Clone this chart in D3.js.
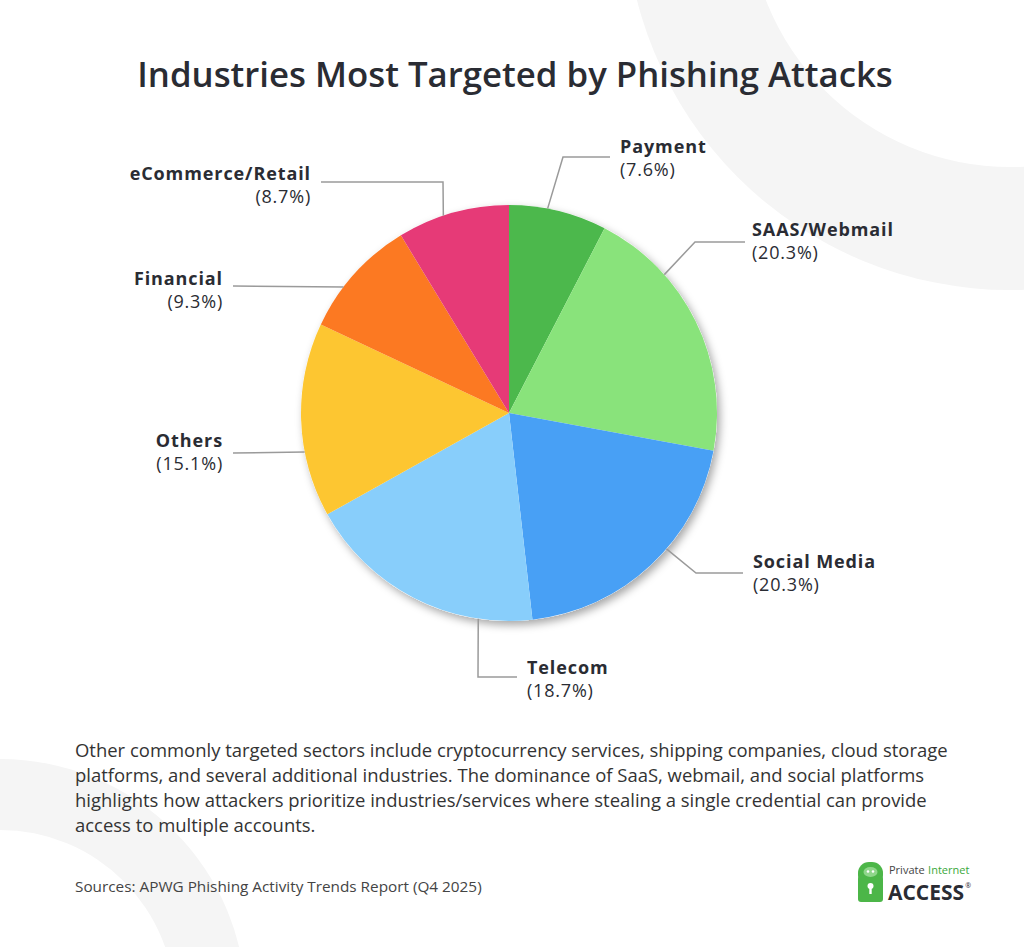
<!DOCTYPE html>
<html>
<head>
<meta charset="utf-8">
<script src="https://cdn.jsdelivr.net/npm/d3@7"></script>
<style>
  html, body { margin: 0; padding: 0; background: #fff; }
  svg { display: block; }
  text { font-family: "Open Sans", "Noto Sans", sans-serif; }
</style>
</head>
<body>
<svg id="chart" width="1024" height="947"></svg>
<script>
// data
var categories = ["Payment", "SAAS/Webmail", "Social Media", "Telecom", "Others", "Financial", "eCommerce/Retail"];
var shares = [7.6, 20.3, 20.3, 18.7, 15.1, 9.3, 8.7];
var sliceColors = ["#4cb84c", "#89e37b", "#48a0f5", "#88cefb", "#fdc631", "#fc7922", "#e63a77"];

var titleText = "Industries Most Targeted by Phishing Attacks";
var noteLines = [
    "Other commonly targeted sectors include cryptocurrency services, shipping companies, cloud storage",
    "platforms, and several additional industries. The dominance of SaaS, webmail, and social platforms",
    "highlights how attackers prioritize industries/services where stealing a single credential can provide",
    "access to multiple accounts."
];
var sourceText = "Sources: APWG Phishing Activity Trends Report (Q4 2025)";

// where each callout leaves the pie (degrees clockwise from top), its elbow and its text
var callouts = [
    { deg: 10.7,  elbow: [563, 157], end: [610, 157], text: [620, 153], side: "start" },
    { deg: 48.3,  elbow: [695, 242], end: [745, 242], text: [752, 236], side: "start" },
    { deg: 130.8, elbow: [696, 573], end: [743, 573], text: [753, 568], side: "start" },
    { deg: 188.5, elbow: [478, 677], end: [517, 677], text: [527, 674], side: "start" },
    { deg: 259.2, elbow: null,       end: [233, 453], text: [223, 447], side: "end" },
    { deg: 307.3, elbow: null,       end: [233, 286], text: [223, 285], side: "end" },
    { deg: 341.6, elbow: [443, 182], end: [321, 182], text: [311, 180], side: "end" }
];

var W = 1024, H = 947;
var cx = 509, cy = 413, radius = 208;

var svg = d3.select("#chart");

// scale a text's font so that it spans the given width
function fitWidth(sel, width) {
    var fs = parseFloat(sel.style("font-size"));
    var len = sel.node().getComputedTextLength();
    var size = fs * width / len;
    sel.style("font-size", size + "px");
    return size;
}

// soft background rings
var bg = svg.append("g").attr("class", "bg");
var ring = d3.arc();
bg.append("path")
    .attr("transform", "translate(1010,-95)")
    .attr("d", ring({ innerRadius: 262, outerRadius: 385, startAngle: 0, endAngle: 2 * Math.PI }))
    .style("fill", "#f5f5f5");
bg.append("path")
    .attr("transform", "translate(0,1005)")
    .attr("d", ring({ innerRadius: 175, outerRadius: 246, startAngle: 0, endAngle: 2 * Math.PI }))
    .style("fill", "#f5f5f5");

// title
var title = svg.append("text")
    .attr("x", 515)
    .attr("y", 87)
    .attr("text-anchor", "middle")
    .style("font-size", "34px")
    .style("font-weight", 600)
    .style("fill", "#2a2c33")
    .text(titleText);
fitWidth(title, 756);

// drop shadow for the pie
var defs = svg.append("defs");
var shadow = defs.append("filter")
    .attr("id", "pieShadow")
    .attr("x", "-20%").attr("y", "-20%")
    .attr("width", "140%").attr("height", "140%");
shadow.append("feDropShadow")
    .attr("dx", 3)
    .attr("dy", 4)
    .attr("stdDeviation", 4)
    .attr("flood-color", "#000")
    .attr("flood-opacity", 0.35);

var color = d3.scaleOrdinal().domain(categories).range(sliceColors);

var pie = d3.pie()
    .sort(null)
    .value(function(d) { return d.value; });

var arc = d3.arc()
    .innerRadius(0)
    .outerRadius(radius);

var table = categories.map(function(c, i) {
    return { name: c, value: shares[i] };
});

var pieG = svg.append("g")
    .attr("transform", "translate(" + cx + "," + cy + ")");

pieG.append("circle")
    .attr("r", radius)
    .style("fill", "#fff")
    .attr("filter", "url(#pieShadow)");

pieG.selectAll("path.slice")
    .data(pie(table))
    .enter()
    .append("path")
    .attr("class", "slice")
    .attr("d", arc)
    .style("fill", function(d) { return color(d.data.name); });

// callout lines
var line = d3.line();
var calloutG = svg.append("g");

callouts.forEach(function(c, i) {
    var a = c.deg * Math.PI / 180;
    var start = [cx + radius * Math.sin(a), cy - radius * Math.cos(a)];
    var pts = [start];
    if (c.elbow) pts.push(c.elbow);
    pts.push(c.end);

    calloutG.append("path")
        .attr("d", line(pts))
        .style("fill", "none")
        .style("stroke", "#9a9a9a")
        .style("stroke-width", 1.5);

    var t = calloutG.append("text")
        .attr("x", c.text[0])
        .attr("y", c.text[1])
        .attr("text-anchor", c.side)
        .style("fill", "#2a2c33");

    t.append("tspan")
        .style("font-size", "18px")
        .style("font-weight", 700)
        .style("letter-spacing", "0.9px")
        .text(categories[i]);

    t.append("tspan")
        .attr("x", c.text[0])
        .attr("dy", 23)
        .style("font-size", "18px")
        .style("font-weight", 400)
        .style("letter-spacing", "0.8px")
        .text("(" + d3.format(".1f")(shares[i]) + "%)");
});

// explanatory note
var note = svg.append("text")
    .attr("x", 75)
    .attr("y", 757)
    .style("font-size", "17px")
    .style("fill", "#333");

note.selectAll("tspan")
    .data(noteLines)
    .enter()
    .append("tspan")
    .attr("x", 75)
    .attr("dy", function(d, i) { return i === 0 ? 0 : 25; })
    .text(function(d) { return d; });

// size the note by its first line
var firstLine = note.select("tspan").node();
var noteSize = 17 * 873 / firstLine.getComputedTextLength();
note.style("font-size", noteSize + "px");

var source = svg.append("text")
    .attr("x", 75)
    .attr("y", 892)
    .style("font-size", "14px")
    .style("fill", "#444")
    .text(sourceText);
fitWidth(source, 407);

// logo
var logo = svg.append("g").attr("transform", "translate(858,862)");
logo.append("rect")
    .attr("x", 0).attr("y", 0)
    .attr("width", 25).attr("height", 24)
    .attr("rx", 11)
    .style("fill", "#4cb648");
logo.append("rect")
    .attr("x", 0).attr("y", 14)
    .attr("width", 25).attr("height", 26)
    .attr("rx", 3)
    .style("fill", "#4cb648");
logo.append("ellipse")
    .attr("cx", 12.5).attr("cy", 10)
    .attr("rx", 7).attr("ry", 5)
    .style("fill", "#8fd68a");
logo.append("circle").attr("cx", 10).attr("cy", 9.5).attr("r", 1.3).style("fill", "#fff");
logo.append("circle").attr("cx", 15).attr("cy", 9.5).attr("r", 1.3).style("fill", "#fff");
logo.append("circle").attr("cx", 12.5).attr("cy", 24).attr("r", 3).style("fill", "#fff");
logo.append("rect").attr("x", 11.3).attr("y", 24).attr("width", 2.4).attr("height", 8).style("fill", "#fff");

var priv = svg.append("text")
    .attr("x", 889)
    .attr("y", 874)
    .style("font-size", "11px")
    .style("fill", "#444")
    .text("Private");
svg.append("text")
    .attr("x", 889 + priv.node().getComputedTextLength() + 3.5)
    .attr("y", 874)
    .style("font-size", "11px")
    .style("fill", "#3aa83a")
    .text("Internet");

var access = svg.append("text")
    .attr("x", 888)
    .attr("y", 900)
    .style("font-size", "21px")
    .style("font-weight", 700)
    .style("fill", "#2a2c33")
    .text("ACCESS");
svg.append("text")
    .attr("x", 888 + access.node().getComputedTextLength() + 1)
    .attr("y", 888)
    .style("font-size", "7px")
    .style("fill", "#2a2c33")
    .text("®");
</script>
</body>
</html>
